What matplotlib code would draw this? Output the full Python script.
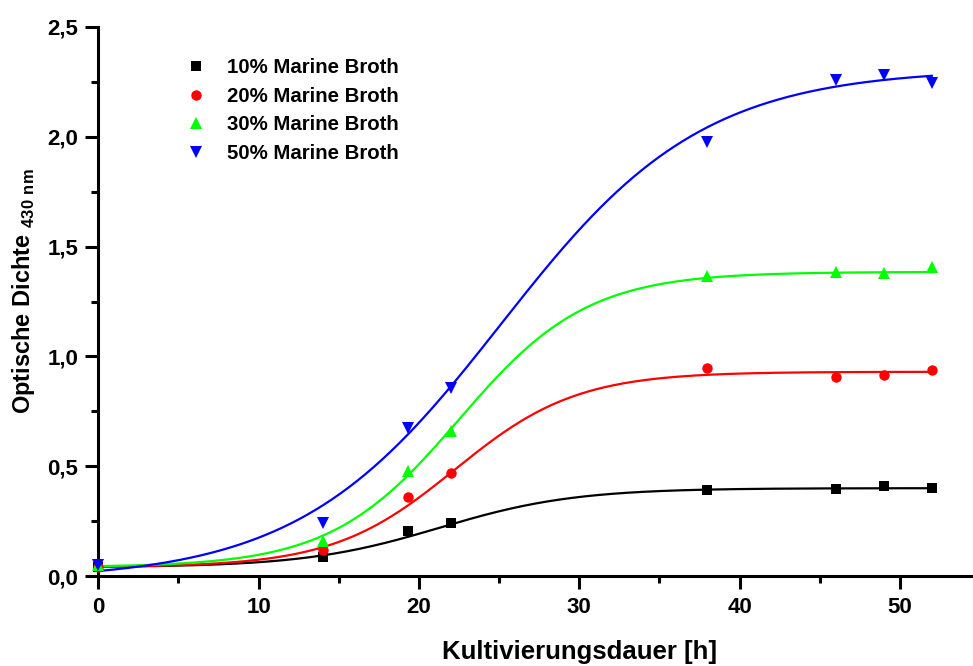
import numpy as np
import matplotlib
matplotlib.use("Agg")
import matplotlib.pyplot as plt
from matplotlib.ticker import MultipleLocator, FuncFormatter

plt.rcParams['font.family'] = ['Liberation Sans', 'DejaVu Sans']
plt.rcParams['font.weight'] = 'bold'
plt.rcParams['mathtext.fontset'] = 'custom'
plt.rcParams['mathtext.rm'] = 'Liberation Sans:bold'
plt.rcParams['mathtext.bf'] = 'Liberation Sans:bold'

# measured time points [h]
time_h = [0, 14, 19.3, 22, 38, 46, 49, 52]

# optical density at 430 nm
od_10 = [0.04, 0.087, 0.205, 0.24, 0.39, 0.395, 0.41, 0.40]
od_20 = [0.04, 0.12, 0.36, 0.47, 0.945, 0.905, 0.915, 0.937]
od_30 = [0.05, 0.16, 0.48, 0.66, 1.365, 1.384, 1.38, 1.405]
od_50 = [0.05, 0.24, 0.674, 0.856, 1.976, 2.26, 2.28, 2.245]

labels = ["10% Marine Broth", "20% Marine Broth", "30% Marine Broth", "50% Marine Broth"]
colors = ["#000000", "#ff0000", "#00ff00", "#0000ff"]
markers = ["s", "o", "^", "v"]

# Boltzmann fit parameters (A1, A2, x0, dx)
fit_A1 = [0.04, 0.04, 0.04, -0.02]
fit_A2 = [0.40, 0.93, 1.385, 2.31]
fit_x0 = [21.3, 22.25, 22.5, 25.1]
fit_dx = [4.2, 3.8, 4.0, 6.3]
fit_range = (0, 52)

series = [od_10, od_20, od_30, od_50]

fig = plt.figure(figsize=(9.73, 6.66), dpi=100)
W, H = 973, 666
ax = fig.add_axes([98.3 / W, 1 - 576 / H, 1 - 98.3 / W, (576 - 27) / H])

xs = np.linspace(fit_range[0], fit_range[1], 400)
handles = []
for i, ys in enumerate(series):
    fit = fit_A2[i] + (fit_A1[i] - fit_A2[i]) / (1 + np.exp((xs - fit_x0[i]) / fit_dx[i]))
    ax.plot(xs, fit, color=colors[i], lw=1.6, zorder=2, clip_on=False)
    ms = 7.5 if markers[i] in ("s", "o") else 9
    h, = ax.plot(time_h, ys, linestyle='none', marker=markers[i], color=colors[i],
                 markersize=ms, markeredgewidth=0, zorder=3, clip_on=False, label=labels[i])
    handles.append(h)

ax.set_xlim(0, (W - 98.3) / 16.03)
ax.set_ylim(0, 2.5)
ax.xaxis.set_major_locator(MultipleLocator(10))
ax.xaxis.set_minor_locator(MultipleLocator(5))
ax.yaxis.set_major_locator(MultipleLocator(0.5))
ax.yaxis.set_minor_locator(MultipleLocator(0.25))
ax.yaxis.set_major_formatter(FuncFormatter(lambda v, p: f"{v:.1f}".replace('.', ',')))
ax.xaxis.set_major_formatter(FuncFormatter(lambda v, p: f"{v:.0f}"))

for s in ['top', 'right']:
    ax.spines[s].set_visible(False)
for s in ['left', 'bottom']:
    ax.spines[s].set_linewidth(2.2)
ax.tick_params(which='major', direction='out', length=9.4, width=2.2, labelsize=16, pad=5)
ax.tick_params(axis='x', which='major', pad=6)
ax.tick_params(which='minor', direction='out', length=5, width=2.2)
for lab in ax.get_xticklabels() + ax.get_yticklabels():
    lab.set_fontweight('bold')

ax.set_xlabel("Kultivierungsdauer [h]", fontsize=18.5, fontweight='bold')
ax.xaxis.set_label_coords((580 - 98.3) / (W - 98.3), -(640 - 576) / (576 - 27))
ax.set_ylabel(r"Optische Dichte $_{\mathrm{430\ nm}}$", fontsize=17, fontweight='bold')
ax.yaxis.set_label_coords(-(98.3 - 37) / (W - 98.3), (576 - 291) / (576 - 27))

leg = ax.legend(handles=handles, loc='upper left', bbox_to_anchor=(178 / W, 1 - 50 / H),
                bbox_transform=fig.transFigure, frameon=False, fontsize=14.7,
                handlelength=1.0, handletextpad=1.0, labelspacing=0.47, borderaxespad=0)
for t in leg.get_texts():
    t.set_fontweight('bold')

fig.savefig("out.png", dpi=100)
